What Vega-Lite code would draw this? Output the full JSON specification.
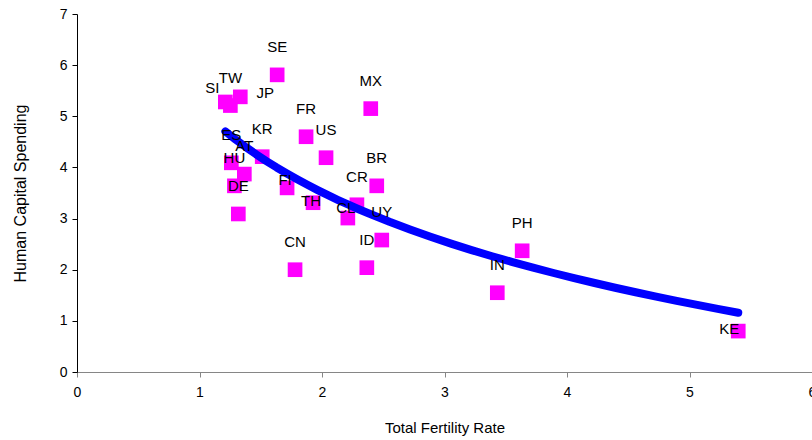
{
  "$schema": "https://vega.github.io/schema/vega-lite/v6.json",
  "autosize": {"type": "none"},
  "padding": {"left": 77, "top": 14, "right": 0, "bottom": 68},
  "width": 735,
  "height": 358,
  "background": "white",
  "config": {
    "font": "Liberation Sans",
    "view": {"stroke": null}
  },
  "data": {
    "values": [
      {"country": "SE", "tfr": 1.634, "spending": 5.81},
      {"country": "MX", "tfr": 2.398, "spending": 5.15},
      {"country": "FR", "tfr": 1.870, "spending": 4.60},
      {"country": "US", "tfr": 2.033, "spending": 4.19},
      {"country": "KR", "tfr": 1.512, "spending": 4.21},
      {"country": "BR", "tfr": 2.447, "spending": 3.64},
      {"country": "CR", "tfr": 2.285, "spending": 3.27},
      {"country": "CL", "tfr": 2.211, "spending": 3.01},
      {"country": "UY", "tfr": 2.488, "spending": 2.58},
      {"country": "ID", "tfr": 2.366, "spending": 2.04},
      {"country": "CN", "tfr": 1.780, "spending": 2.00},
      {"country": "IN", "tfr": 3.431, "spending": 1.55},
      {"country": "PH", "tfr": 3.634, "spending": 2.37},
      {"country": "KE", "tfr": 5.398, "spending": 0.80},
      {"country": "FI", "tfr": 1.715, "spending": 3.60},
      {"country": "TH", "tfr": 1.927, "spending": 3.31},
      {"country": "JP", "tfr": 1.333, "spending": 5.38},
      {"country": "SI", "tfr": 1.211, "spending": 5.28},
      {"country": "TW", "tfr": 1.252, "spending": 5.21},
      {"country": "ES", "tfr": 1.260, "spending": 4.09},
      {"country": "AT", "tfr": 1.366, "spending": 3.87},
      {"country": "HU", "tfr": 1.285, "spending": 3.64},
      {"country": "DE", "tfr": 1.317, "spending": 3.09}
    ]
  },
  "encoding": {
    "x": {
      "field": "tfr",
      "type": "quantitative",
      "title": "Total Fertility Rate",
      "scale": {"domain": [0, 6], "nice": false, "zero": true},
      "axis": {
        "values": [0, 1, 2, 3, 4, 5, 6],
        "grid": false,
        "domainColor": "#868686",
        "tickColor": "#868686",
        "tickSize": 5,
        "labelFontSize": 14,
        "labelColor": "#000000",
        "labelPadding": 8,
        "labelFlush": false,
        "labelOverlap": false,
        "titleFontSize": 15,
        "titleFontWeight": "normal",
        "titleColor": "#000000",
        "titlePadding": 21
      }
    },
    "y": {
      "field": "spending",
      "type": "quantitative",
      "title": "Human Capital Spending",
      "scale": {"domain": [0, 7], "nice": false},
      "axis": {
        "values": [0, 1, 2, 3, 4, 5, 6, 7],
        "grid": false,
        "domainColor": "#000000",
        "tickColor": "#000000",
        "tickSize": 5,
        "labelFontSize": 14,
        "labelColor": "#000000",
        "labelPadding": 5,
        "labelFlush": false,
        "titleFontSize": 16,
        "titleFontWeight": "normal",
        "titleColor": "#000000",
        "titlePadding": 31
      }
    }
  },
  "layer": [
    {
      "mark": {"type": "point", "shape": "square", "filled": true, "size": 215, "color": "#FF00FF", "opacity": 1}
    },
    {
      "transform": [{"regression": "spending", "on": "tfr", "method": "log"}],
      "mark": {"type": "line", "color": "#0000FF", "strokeWidth": 8, "strokeCap": "round", "strokeJoin": "round"}
    },
    {
      "transform": [{"filter": {"field": "country", "oneOf": ["SE", "MX", "FR", "US", "KR", "BR", "CR", "UY", "ID", "CN", "IN", "PH", "TW", "ES", "AT", "HU", "DE"]}}],
      "mark": {"type": "text", "dy": -28, "fontSize": 15, "color": "#000000"},
      "encoding": {"text": {"field": "country"}}
    },
    {
      "transform": [{"filter": {"field": "country", "oneOf": ["FI"]}}],
      "mark": {"type": "text", "dx": -2, "dy": -8, "fontSize": 15, "color": "#000000"},
      "encoding": {"text": {"field": "country"}}
    },
    {
      "transform": [{"filter": {"field": "country", "oneOf": ["TH"]}}],
      "mark": {"type": "text", "dx": -2, "dy": -2, "fontSize": 15, "color": "#000000"},
      "encoding": {"text": {"field": "country"}}
    },
    {
      "transform": [{"filter": {"field": "country", "oneOf": ["CL"]}}],
      "mark": {"type": "text", "dx": -2, "dy": -10, "fontSize": 15, "color": "#000000"},
      "encoding": {"text": {"field": "country"}}
    },
    {
      "transform": [{"filter": {"field": "country", "oneOf": ["KE"]}}],
      "mark": {"type": "text", "dx": -9, "dy": -2, "fontSize": 15, "color": "#000000"},
      "encoding": {"text": {"field": "country"}}
    },
    {
      "transform": [{"filter": {"field": "country", "oneOf": ["SI"]}}],
      "mark": {"type": "text", "dx": -13, "dy": -14, "fontSize": 15, "color": "#000000"},
      "encoding": {"text": {"field": "country"}}
    },
    {
      "transform": [{"filter": {"field": "country", "oneOf": ["JP"]}}],
      "mark": {"type": "text", "dx": 25, "dy": -4, "fontSize": 15, "color": "#000000"},
      "encoding": {"text": {"field": "country"}}
    }
  ]
}
